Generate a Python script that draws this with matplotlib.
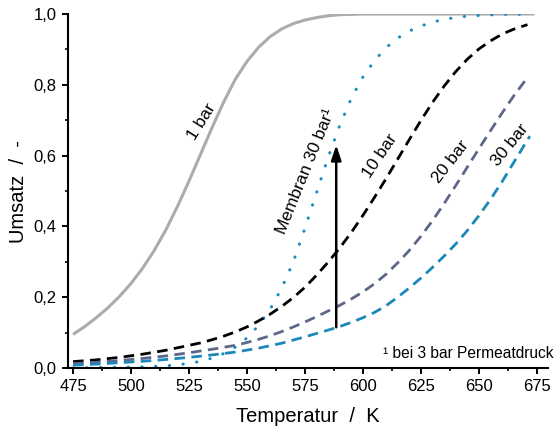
import matplotlib
matplotlib.use("Agg")
import matplotlib.pyplot as plt
from matplotlib.ticker import MultipleLocator, FuncFormatter

plt.rcParams['font.family'] = ['Liberation Sans', 'DejaVu Sans']

# values
t_1bar = [475, 480, 485, 490, 495, 500, 505, 510, 515, 520, 525, 530, 535, 540, 545,
          550, 555, 560, 565, 570, 575, 580, 585, 590, 595, 600, 610, 625, 650, 674]
u_1bar = [0.095, 0.117, 0.142, 0.170, 0.202, 0.239, 0.282, 0.332, 0.390, 0.456, 0.528,
          0.604, 0.680, 0.752, 0.816, 0.866, 0.906, 0.936, 0.958, 0.973, 0.983, 0.990,
          0.995, 0.998, 0.999, 1.0, 1.0, 1.0, 1.0, 1.0]

t_10bar = [475, 485, 495, 505, 515, 525, 530, 535, 540, 545, 550, 555, 560, 565, 570, 575,
           580, 585, 590, 595, 600, 605, 610, 615, 620, 625, 630, 635, 640, 645, 650, 655,
           660, 665, 671]
u_10bar = [0.018, 0.023, 0.030, 0.039, 0.050, 0.064, 0.071, 0.080, 0.090, 0.102, 0.116,
           0.133, 0.152, 0.174, 0.199, 0.228, 0.262, 0.299, 0.339, 0.383, 0.431, 0.482,
           0.535, 0.590, 0.645, 0.699, 0.750, 0.796, 0.837, 0.872, 0.901, 0.924, 0.943,
           0.957, 0.970]

t_20bar = [475, 485, 495, 505, 515, 525, 535, 545, 550, 555, 560, 565, 570, 575, 580, 585,
           590, 595, 600, 605, 610, 615, 620, 625, 630, 635, 640, 645, 650, 655, 660, 665, 670]
u_20bar = [0.012, 0.016, 0.021, 0.027, 0.034, 0.043, 0.053, 0.064, 0.072, 0.081, 0.091,
           0.103, 0.116, 0.130, 0.145, 0.161, 0.177, 0.195, 0.215, 0.238, 0.265, 0.297,
           0.332, 0.372, 0.416, 0.464, 0.515, 0.567, 0.619, 0.670, 0.720, 0.768, 0.812]

t_30bar = [475, 485, 495, 505, 515, 525, 535, 545, 555, 565, 575, 585, 590, 595, 600, 605,
           610, 615, 620, 625, 630, 635, 640, 645, 650, 655, 660, 665, 672]
u_30bar = [0.008, 0.011, 0.015, 0.019, 0.024, 0.030, 0.037, 0.045, 0.056, 0.070, 0.088,
           0.107, 0.117, 0.129, 0.142, 0.157, 0.176, 0.200, 0.226, 0.254, 0.284, 0.316,
           0.350, 0.388, 0.430, 0.476, 0.526, 0.580, 0.655]

t_membran = [475, 485, 495, 505, 515, 520, 525, 530, 535, 540, 545, 550, 555, 560, 565, 570,
             575, 580, 585, 590, 595, 600, 605, 610, 615, 620, 625, 630, 635, 640, 645, 650,
             660, 673]
u_membran = [0.0, 0.001, 0.002, 0.003, 0.006, 0.009, 0.013, 0.019, 0.028, 0.041, 0.059,
             0.085, 0.120, 0.166, 0.226, 0.300, 0.395, 0.495, 0.595, 0.685, 0.762, 0.822,
             0.868, 0.905, 0.932, 0.952, 0.966, 0.977, 0.985, 0.990, 0.994, 0.996, 0.999, 1.0]

arrow_t = 588.5
arrow_from = 0.115
arrow_to = 0.63

fig = plt.figure(figsize=(5.54, 4.30), dpi=100)
ax = fig.add_axes([0.1227, 0.1442, 0.8663, 0.8232])

lw = 2.0
dash = (0, (3.8, 2.3))
ax.plot(t_1bar, u_1bar, color='#ababb0', lw=2.2, solid_capstyle='butt')
ax.plot(t_membran, u_membran, color='#1a8bc2', lw=2.2, linestyle=(0, (0.1, 4.4)),
        dash_capstyle='round')
ax.plot(t_10bar, u_10bar, color='black', lw=lw, linestyle=dash)
ax.plot(t_20bar, u_20bar, color='#5d6889', lw=lw, linestyle=dash)
ax.plot(t_30bar, u_30bar, color='#1c87b9', lw=lw, linestyle=dash)

ax.annotate('', xy=(arrow_t, arrow_to), xytext=(arrow_t, arrow_from),
            arrowprops=dict(arrowstyle='-|>,head_length=0.9,head_width=0.3',
                            color='black', lw=1.8, shrinkA=0, shrinkB=0))

lab = dict(fontsize=12.5, ha='center', va='center')
ax.text(530.5, 0.695, '1 bar', rotation=58, **lab)
ax.text(575.3, 0.555, 'Membran 30 bar\u00b9', rotation=68, **lab)
ax.text(607.3, 0.6, '10 bar', rotation=56, **lab)
ax.text(638.0, 0.583, '20 bar', rotation=52, **lab)
ax.text(663.6, 0.63, '30 bar', rotation=51, **lab)
ax.text(682, 0.04, '\u00b9 bei 3 bar Permeatdruck', fontsize=11.2, ha='right', va='center',
        clip_on=False)

ax.set_xlim(472.8, 679.8)
ax.set_ylim(0, 1.0)
ax.xaxis.set_major_locator(MultipleLocator(25))
ax.xaxis.set_minor_locator(MultipleLocator(12.5))
ax.yaxis.set_major_locator(MultipleLocator(0.2))
ax.yaxis.set_minor_locator(MultipleLocator(0.1))
ax.yaxis.set_major_formatter(FuncFormatter(lambda v, p: f'{v:.1f}'.replace('.', ',')))

for s in ['top', 'right']:
    ax.spines[s].set_visible(False)
for s in ['left', 'bottom']:
    ax.spines[s].set_linewidth(1.5)
ax.tick_params(which='major', direction='out', length=4.5, width=1.4, labelsize=12)
ax.tick_params(which='minor', direction='out', length=2.5, width=1.2)

ax.set_xlabel('Temperatur  /  K', fontsize=14.5, labelpad=9)
ax.set_ylabel('Umsatz  /  -', fontsize=14.5, labelpad=4)

fig.savefig('out.png', dpi=100)
